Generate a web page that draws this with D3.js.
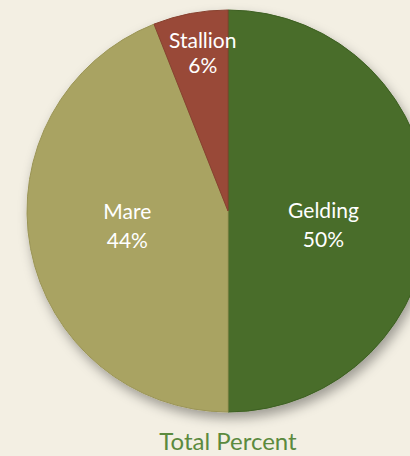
<!DOCTYPE html>
<html><head><meta charset="utf-8">
<script src="https://cdn.jsdelivr.net/npm/d3@7"></script>
<style>
html,body{margin:0;padding:0;background:#f3efe3;overflow:hidden;}
svg{display:block;}
</style></head>
<body>
<svg id="chart" width="410" height="456"></svg>
<script>
const categories = ["Gelding", "Mare", "Stallion"];
const values = [50, 44, 6];
const colors = ["#486d2b", "#a9a362", "#994a37"];
const strokes = ["#3d5f22", "#9a9455", "#87402f"];
const title = "Total Percent";

const W = 410, H = 456;
const cx = 228, cy = 211, R = 201;
const svg = d3.select("#chart");

const defs = svg.append("defs");
const f = defs.append("filter").attr("id","shadow").attr("x","-20%").attr("y","-20%").attr("width","140%").attr("height","140%");
f.append("feDropShadow").attr("dx",3).attr("dy",6).attr("stdDeviation",6).attr("flood-color","#000").attr("flood-opacity",0.35);

const data = categories.map((c,i)=>({cat:c, value:values[i], i}));
const pie = d3.pie().value(d=>d.value).sort(null);
const arcs = pie(data);
const arc = d3.arc().innerRadius(0).outerRadius(R);

const g = svg.append("g").attr("transform",`translate(${cx},${cy})`);
const pg = g.append("g").attr("filter","url(#shadow)");
pg.selectAll("path").data(arcs).join("path")
  .attr("d", arc)
  .attr("fill", d=>colors[d.data.i])
  .attr("stroke", d=>strokes[d.data.i])
  .attr("stroke-width", 1);

// label layout: radius fraction and vertical shift for each slice
const labelLayout = {
  Gelding: {k:0.475, dy:0, gap:29},
  Mare: {k:0.51, dy:-19, gap:29},
  Stallion: {k:0.67, dy:-38, gap:25}
};
const lg = g.append("g").attr("font-family","Lato, 'Open Sans', sans-serif").attr("font-size",21).attr("fill","#ffffff").attr("text-anchor","middle");
arcs.forEach(d=>{
  const L = labelLayout[d.data.cat];
  const a = (d.startAngle + d.endAngle)/2;
  const x = Math.sin(a)*R*L.k;
  const y = -Math.cos(a)*R*L.k + L.dy;
  const pct = Math.round(d.data.value / d3.sum(values) * 100) + "%";
  lg.append("text").attr("x",x).attr("y",y).attr("dy","0.35em").text(d.data.cat);
  lg.append("text").attr("x",x).attr("y",y+L.gap).attr("dy","0.35em").text(pct);
});

svg.append("text").attr("x",cx).attr("y",442).attr("dy","0.35em")
  .attr("text-anchor","middle").attr("font-family","Lato, 'Open Sans', sans-serif")
  .attr("font-size",24).attr("fill","#5b8a3e").text(title);
</script>
</body></html>
